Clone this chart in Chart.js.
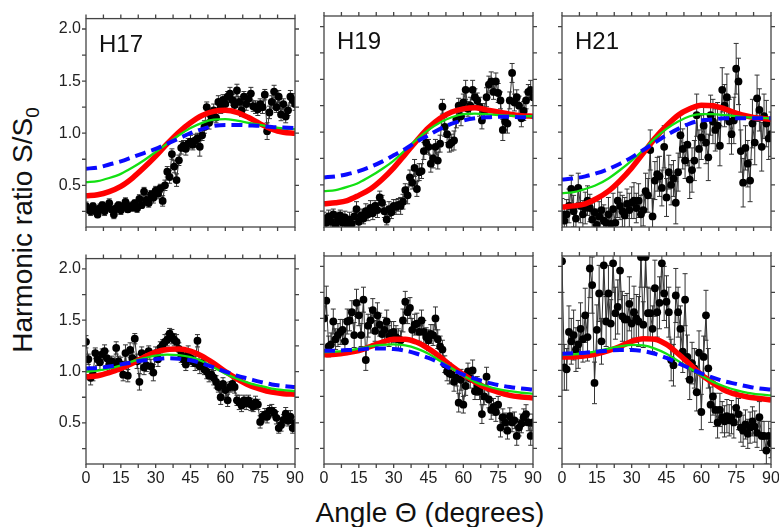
<!DOCTYPE html>
<html>
<head>
<meta charset="utf-8">
<script src="https://cdn.jsdelivr.net/npm/chart.js@4.4.0/dist/chart.umd.min.js"></script>
<style>
  html, body { margin: 0; padding: 0; background: #fff; }
  #figura {
    position: relative;
    width: 779px;
    height: 527px;
    overflow: hidden;
    font-family: "Liberation Sans", Arial, sans-serif;
    color: #111;
  }
  #figura canvas { position: absolute; }
  .titulo-y {
    position: absolute;
    left: 23px;
    top: 230px;
    font-size: 28px;
    line-height: 1;
    white-space: nowrap;
    transform: translate(-50%, -50%) rotate(-90deg);
  }
  .titulo-y .sub { font-size: 19px; position: relative; top: 7px; }
  .titulo-x {
    position: absolute;
    left: 430px;
    top: 499px;
    font-size: 28px;
    line-height: 1;
    white-space: nowrap;
    transform: translateX(-50%);
  }
</style>
</head>
<body>
<div id="figura">
  <div class="titulo-y">Harmonic ratio S/S<span class="sub">0</span></div>
  <div class="titulo-x">Angle Θ (degrees)</div>
</div>
<script>
// Ângulos medidos (um ponto por grau)
const angulos = [
  0, 1, 2, 3, 4, 5, 6, 7, 8, 9,
  10, 11, 12, 13, 14, 15, 16, 17, 18, 19,
  20, 21, 22, 23, 24, 25, 26, 27, 28, 29,
  30, 31, 32, 33, 34, 35, 36, 37, 38, 39,
  40, 41, 42, 43, 44, 45, 46, 47, 48, 49,
  50, 51, 52, 53, 54, 55, 56, 57, 58, 59,
  60, 61, 62, 63, 64, 65, 66, 67, 68, 69,
  70, 71, 72, 73, 74, 75, 76, 77, 78, 79,
  80, 81, 82, 83, 84, 85, 86, 87, 88, 89,
  90,
];

// Ângulos onde as curvas teóricas foram lidas
const curvaAngulos = [0, 5, 10, 15, 20, 25, 30, 35, 40, 45, 50, 55, 60, 65, 70, 75, 80, 85, 90];

const xRotulos = [0, 15, 30, 45, 60, 75, 90];
const yRotulos = [0.5, 1.0, 1.5, 2.0];
const xMarcas = [0, 7.5, 15, 22.5, 30, 37.5, 45, 52.5, 60, 67.5, 75, 82.5, 90];
const yMarcas = [0.25, 0.5, 0.75, 1.0, 1.25, 1.5, 1.75, 2.0];

// ---------- H17 (linha de cima) ----------
const h17SupValores = [
  0.30, 0.27, 0.25, 0.30, 0.26, 0.22, 0.28, 0.31, 0.25, 0.29,
  0.33, 0.27, 0.22, 0.28, 0.31, 0.26, 0.30, 0.34, 0.27, 0.30,
  0.29, 0.33, 0.28, 0.37, 0.31, 0.44, 0.36, 0.33, 0.41, 0.38,
  0.45, 0.42, 0.47, 0.35, 0.50, 0.63, 0.58, 0.80, 0.68, 0.55,
  0.74, 0.86, 0.88, 0.85, 0.90, 0.92, 0.89, 0.93, 0.95, 0.87,
  0.98, 1.06, 1.25, 1.10, 1.16, 1.22, 1.15, 1.30, 1.25, 1.32,
  1.28, 1.35, 1.38, 1.32, 1.27, 1.41, 1.30, 1.22, 1.35, 1.28,
  1.33, 1.38, 1.26, 1.25, 1.23, 1.28, 1.25, 1.37, 1.02, 1.20,
  1.30, 1.40, 1.25, 1.35, 1.18, 1.28, 1.16, 1.22, 1.35, 1.32,
  1.28,
];
const h17SupErros = [
  0.04, 0.03, 0.04, 0.03, 0.04, 0.03, 0.04, 0.03, 0.04, 0.03,
  0.04, 0.03, 0.04, 0.04, 0.03, 0.04, 0.03, 0.04, 0.03, 0.04,
  0.04, 0.03, 0.04, 0.04, 0.03, 0.04, 0.05, 0.04, 0.04, 0.05,
  0.04, 0.05, 0.04, 0.05, 0.05, 0.05, 0.06, 0.05, 0.06, 0.06,
  0.05, 0.06, 0.05, 0.06, 0.05, 0.06, 0.05, 0.06, 0.05, 0.09,
  0.05, 0.06, 0.05, 0.06, 0.05, 0.06, 0.05, 0.06, 0.06, 0.05,
  0.06, 0.05, 0.06, 0.05, 0.06, 0.06, 0.05, 0.06, 0.05, 0.06,
  0.05, 0.06, 0.05, 0.06, 0.06, 0.05, 0.06, 0.05, 0.08, 0.06,
  0.06, 0.06, 0.05, 0.06, 0.06, 0.05, 0.06, 0.05, 0.06, 0.06,
  0.06,
];
const h17SupVermelho = [0.40, 0.41, 0.44, 0.49, 0.57, 0.67, 0.78, 0.90, 1.01, 1.10, 1.17, 1.21, 1.22, 1.20, 1.15, 1.09, 1.04, 1.01, 1.00];
const h17SupVerde = [0.53, 0.54, 0.57, 0.61, 0.67, 0.74, 0.82, 0.90, 0.98, 1.05, 1.10, 1.13, 1.135, 1.12, 1.10, 1.08, 1.06, 1.045, 1.04];
const h17SupAzul = [0.66, 0.67, 0.70, 0.73, 0.77, 0.81, 0.85, 0.90, 0.95, 1.00, 1.04, 1.07, 1.08, 1.08, 1.075, 1.07, 1.06, 1.055, 1.05];

// ---------- H19 (linha de cima) ----------
const h19SupValores = [
  0.18, 0.14, 0.20, 0.15, 0.22, 0.12, 0.17, 0.21, 0.14, 0.19,
  0.12, 0.17, 0.13, 0.20, 0.27, 0.15, 0.21, 0.18, 0.25, 0.22,
  0.28, 0.23, 0.30, 0.26, 0.38, 0.33, 0.25, 0.17, 0.27, 0.24,
  0.30, 0.29, 0.31, 0.30, 0.34, 0.45, 0.40, 0.57, 0.52, 0.66,
  0.46, 0.62, 0.63, 0.82, 0.90, 0.86, 0.70, 0.75, 0.86, 0.73,
  0.89, 1.24, 1.05, 0.98, 0.88, 0.90, 0.92, 1.12, 1.25, 1.15,
  1.28, 1.40, 1.22, 1.25, 1.40, 1.33, 1.30, 1.24, 1.11, 1.20,
  1.33, 1.45, 1.48, 1.38, 1.48, 1.37, 1.30, 1.02, 1.10, 1.08,
  1.30, 1.56, 1.28, 1.33, 1.25, 1.13, 1.20, 1.30, 1.38, 1.40,
  1.33,
];
const h19SupErros = [
  0.06, 0.05, 0.06, 0.07, 0.05, 0.06, 0.07, 0.05, 0.06, 0.06,
  0.05, 0.07, 0.06, 0.05, 0.07, 0.06, 0.06, 0.05, 0.07, 0.06,
  0.07, 0.06, 0.05, 0.07, 0.06, 0.07, 0.06, 0.05, 0.07, 0.06,
  0.06, 0.07, 0.06, 0.08, 0.07, 0.06, 0.08, 0.07, 0.06, 0.08,
  0.07, 0.08, 0.07, 0.08, 0.09, 0.07, 0.08, 0.09, 0.07, 0.08,
  0.08, 0.07, 0.09, 0.08, 0.07, 0.08, 0.09, 0.08, 0.07, 0.09,
  0.08, 0.09, 0.07, 0.08, 0.09, 0.08, 0.07, 0.09, 0.08, 0.07,
  0.09, 0.08, 0.09, 0.07, 0.08, 0.09, 0.08, 0.10, 0.08, 0.09,
  0.08, 0.09, 0.08, 0.07, 0.09, 0.08, 0.09, 0.08, 0.07, 0.09,
  0.08,
];
const h19SupVermelho = [0.32, 0.33, 0.35, 0.40, 0.46, 0.55, 0.66, 0.79, 0.92, 1.04, 1.13, 1.19, 1.22, 1.23, 1.21, 1.19, 1.17, 1.155, 1.15];
const h19SupVerde = [0.44, 0.45, 0.48, 0.52, 0.58, 0.65, 0.73, 0.83, 0.93, 1.02, 1.09, 1.14, 1.17, 1.175, 1.17, 1.16, 1.155, 1.15, 1.15];
const h19SupAzul = [0.57, 0.58, 0.60, 0.63, 0.67, 0.72, 0.78, 0.84, 0.91, 0.97, 1.03, 1.08, 1.11, 1.13, 1.14, 1.145, 1.145, 1.14, 1.14];

// ---------- H21 (linha de cima) ----------
const h21SupValores = [
  0.22, 0.16, 0.22, 0.30, 0.46, 0.25, 0.18, 0.47, 0.30, 0.22,
  0.28, 0.35, 0.28, 0.17, 0.24, 0.12, 0.20, 0.26, 0.16, 0.14,
  0.22, 0.13, 0.27, 0.14, 0.35, 0.30, 0.25, 0.21, 0.32, 0.26,
  0.33, 0.35, 0.28, 0.35, 0.22, 0.26, 0.44, 0.40, 0.83, 0.20,
  0.54, 0.60, 0.58, 0.47, 0.86, 0.38, 0.62, 0.50, 0.56, 0.33,
  0.62, 0.97, 0.84, 0.73, 0.88, 0.55, 0.64, 0.73, 1.16, 0.84,
  0.95, 1.06, 0.90, 0.76, 1.16, 1.10, 1.02, 1.06, 0.87, 1.40,
  1.25, 1.33, 1.10, 0.98, 1.11, 1.60, 1.48, 0.82, 0.52, 0.85,
  0.70, 0.54, 1.08, 0.90, 1.32, 1.21, 0.86, 1.15, 1.08, 0.94,
  0.98,
];
const h21SupErros = [
  0.15, 0.12, 0.14, 0.16, 0.13, 0.15, 0.12, 0.14, 0.16, 0.13,
  0.15, 0.14, 0.13, 0.16, 0.12, 0.15, 0.14, 0.13, 0.15, 0.14,
  0.16, 0.13, 0.15, 0.14, 0.16, 0.13, 0.15, 0.17, 0.14, 0.16,
  0.15, 0.17, 0.14, 0.16, 0.18, 0.15, 0.17, 0.16, 0.19, 0.17,
  0.18, 0.16, 0.19, 0.17, 0.20, 0.18, 0.16, 0.19, 0.17, 0.20,
  0.18, 0.21, 0.19, 0.17, 0.20, 0.18, 0.21, 0.19, 0.20, 0.18,
  0.21, 0.19, 0.20, 0.22, 0.19, 0.21, 0.20, 0.22, 0.19, 0.21,
  0.20, 0.22, 0.21, 0.19, 0.22, 0.24, 0.22, 0.20, 0.23, 0.21,
  0.22, 0.20, 0.23, 0.21, 0.22, 0.20, 0.23, 0.21, 0.22, 0.20,
  0.21,
];
const h21SupVermelho = [0.29, 0.30, 0.32, 0.37, 0.44, 0.54, 0.66, 0.80, 0.94, 1.06, 1.16, 1.22, 1.255, 1.25, 1.22, 1.18, 1.15, 1.13, 1.12];
const h21SupVerde = [0.42, 0.43, 0.46, 0.50, 0.56, 0.64, 0.73, 0.83, 0.94, 1.03, 1.10, 1.15, 1.17, 1.17, 1.16, 1.15, 1.14, 1.135, 1.13];
const h21SupAzul = [0.55, 0.56, 0.58, 0.61, 0.65, 0.70, 0.76, 0.83, 0.90, 0.97, 1.03, 1.08, 1.11, 1.12, 1.13, 1.13, 1.13, 1.13, 1.13];

// ---------- H17 (linha de baixo) ----------
const h17InfValores = [
  1.29, 1.12, 0.94, 0.97, 1.18, 1.12, 1.09, 1.17, 1.20, 1.13,
  1.07, 1.10, 1.06, 1.23, 1.10, 1.07, 0.97, 1.18, 0.96, 1.21,
  1.13, 1.32, 1.10, 0.90, 1.18, 1.04, 1.06, 1.20, 1.05, 0.99,
  1.18, 1.12, 1.23, 1.26, 1.29, 1.31, 1.37, 1.34, 1.31, 1.29,
  1.22, 1.16, 1.12, 1.07, 1.18, 1.13, 1.10, 1.08, 1.30, 1.05,
  1.08, 1.02, 1.00, 0.96, 0.97, 0.94, 0.90, 0.85, 0.75, 0.88,
  0.82, 0.72, 0.85, 0.88, 0.85, 0.72, 0.70, 0.67, 0.72, 0.69,
  0.72, 0.68, 0.66, 0.70, 0.68, 0.51, 0.56, 0.58, 0.56, 0.62,
  0.62, 0.60, 0.55, 0.45, 0.48, 0.53, 0.59, 0.52, 0.56, 0.45,
  0.50,
];
const h17InfErros = [
  0.06, 0.05, 0.07, 0.06, 0.05, 0.06, 0.07, 0.05, 0.06, 0.07,
  0.06, 0.05, 0.07, 0.06, 0.05, 0.07, 0.06, 0.08, 0.06, 0.07,
  0.06, 0.05, 0.07, 0.08, 0.06, 0.07, 0.06, 0.05, 0.07, 0.08,
  0.06, 0.07, 0.06, 0.05, 0.07, 0.06, 0.05, 0.07, 0.06, 0.07,
  0.06, 0.07, 0.05, 0.06, 0.07, 0.06, 0.05, 0.07, 0.06, 0.07,
  0.06, 0.05, 0.07, 0.06, 0.05, 0.07, 0.06, 0.05, 0.07, 0.06,
  0.07, 0.06, 0.05, 0.07, 0.06, 0.05, 0.07, 0.06, 0.05, 0.06,
  0.05, 0.06, 0.05, 0.06, 0.05, 0.06, 0.05, 0.06, 0.06, 0.05,
  0.06, 0.05, 0.06, 0.05, 0.06, 0.05, 0.06, 0.05, 0.06, 0.05,
  0.06,
];
const h17InfVermelho = [0.95, 0.96, 0.99, 1.03, 1.08, 1.14, 1.19, 1.215, 1.22, 1.20, 1.15, 1.08, 1.00, 0.93, 0.87, 0.83, 0.80, 0.785, 0.78];
const h17InfVerde = [1.00, 1.01, 1.03, 1.06, 1.10, 1.13, 1.155, 1.165, 1.16, 1.14, 1.10, 1.04, 0.98, 0.93, 0.89, 0.86, 0.835, 0.82, 0.81];
const h17InfAzul = [1.03, 1.035, 1.05, 1.07, 1.09, 1.11, 1.12, 1.13, 1.125, 1.11, 1.08, 1.04, 1.00, 0.96, 0.93, 0.90, 0.875, 0.86, 0.85];

// ---------- H19 (linha de baixo) ----------
const h19InfValores = [
  1.50, 1.67, 1.23, 1.25, 1.47, 1.30, 1.34, 1.37, 1.39, 1.28,
  1.47, 1.48, 1.56, 1.34, 1.65, 1.53, 1.34, 1.68, 1.10, 1.43,
  1.48, 1.58, 1.38, 1.53, 1.44, 1.35, 1.39, 1.47, 1.33, 1.36,
  1.37, 1.32, 1.30, 1.29, 1.48, 1.66, 1.56, 1.60, 1.39, 1.44,
  1.45, 1.37, 1.48, 1.37, 1.32, 1.29, 1.35, 1.34, 1.50, 1.30,
  1.23, 1.20, 1.06, 0.99, 0.97, 0.96, 0.89, 0.93, 0.69, 0.91,
  0.67, 0.85, 0.99, 0.92, 1.00, 0.80, 0.85, 0.80, 0.58, 0.75,
  0.94, 0.72, 0.62, 0.65, 0.60, 0.67, 0.45, 0.55, 0.50, 0.42,
  0.56, 0.50, 0.52, 0.37, 0.45, 0.49, 0.55, 0.58, 0.50, 0.37,
  0.50,
];
const h19InfErros = [
  0.12, 0.14, 0.10, 0.11, 0.12, 0.10, 0.11, 0.12, 0.10, 0.11,
  0.12, 0.10, 0.11, 0.12, 0.13, 0.10, 0.11, 0.12, 0.10, 0.11,
  0.12, 0.11, 0.10, 0.12, 0.11, 0.10, 0.12, 0.11, 0.10, 0.11,
  0.10, 0.11, 0.10, 0.09, 0.11, 0.10, 0.11, 0.10, 0.11, 0.10,
  0.10, 0.09, 0.10, 0.11, 0.09, 0.10, 0.09, 0.10, 0.11, 0.09,
  0.10, 0.09, 0.08, 0.09, 0.10, 0.08, 0.09, 0.08, 0.09, 0.10,
  0.08, 0.09, 0.08, 0.09, 0.10, 0.08, 0.09, 0.08, 0.09, 0.08,
  0.09, 0.08, 0.09, 0.08, 0.09, 0.08, 0.09, 0.08, 0.09, 0.08,
  0.08, 0.09, 0.08, 0.09, 0.08, 0.09, 0.08, 0.09, 0.08, 0.09,
  0.08,
];
const h19InfVermelho = [1.15, 1.155, 1.17, 1.19, 1.23, 1.27, 1.30, 1.30, 1.27, 1.21, 1.13, 1.04, 0.96, 0.89, 0.83, 0.79, 0.76, 0.745, 0.735];
const h19InfVerde = [1.175, 1.18, 1.19, 1.21, 1.23, 1.245, 1.25, 1.24, 1.21, 1.16, 1.09, 1.02, 0.95, 0.89, 0.85, 0.82, 0.80, 0.785, 0.775];
const h19InfAzul = [1.19, 1.19, 1.195, 1.20, 1.21, 1.21, 1.205, 1.19, 1.16, 1.12, 1.07, 1.01, 0.96, 0.92, 0.885, 0.86, 0.84, 0.825, 0.815];

// ---------- H21 (linha de baixo) ----------
const h21InfValores = [
  2.05, 1.03, 1.01, 1.37, 1.28, 1.34, 1.20, 1.25, 1.40, 1.30,
  1.53, 1.32, 1.98, 1.82, 0.88, 1.39, 1.74, 1.28, 2.01, 1.47,
  1.74, 1.45, 2.03, 1.55, 1.61, 1.96, 1.52, 1.49, 1.49, 1.64,
  1.45, 1.56, 1.50, 1.47, 2.09, 1.44, 2.09, 1.55, 1.55, 1.40,
  1.79, 1.56, 1.65, 2.03, 1.74, 1.66, 1.56, 1.10, 1.05, 1.72,
  1.56, 1.40, 1.18, 1.68, 1.13, 0.91, 1.07, 1.02, 0.79, 1.17,
  0.60, 1.13, 1.53, 1.02, 0.67, 0.75, 0.62, 0.50, 0.62, 0.55,
  0.51, 0.56, 0.52, 0.55, 0.50, 0.64, 0.58, 0.45, 0.42, 0.48,
  0.39, 0.45, 0.51, 0.46, 0.40, 0.55, 0.37, 0.37, 0.23, 0.37,
  0.30,
];
const h21InfErros = [
  0.30, 0.22, 0.20, 0.25, 0.22, 0.24, 0.21, 0.23, 0.25, 0.22,
  0.26, 0.23, 0.28, 0.27, 0.20, 0.24, 0.27, 0.22, 0.28, 0.24,
  0.27, 0.23, 0.28, 0.25, 0.26, 0.28, 0.24, 0.23, 0.25, 0.26,
  0.24, 0.25, 0.23, 0.24, 0.29, 0.22, 0.29, 0.25, 0.24, 0.22,
  0.27, 0.24, 0.25, 0.28, 0.26, 0.25, 0.24, 0.20, 0.20, 0.26,
  0.24, 0.22, 0.20, 0.25, 0.21, 0.19, 0.20, 0.19, 0.18, 0.21,
  0.17, 0.20, 0.24, 0.19, 0.17, 0.18, 0.16, 0.15, 0.16, 0.15,
  0.15, 0.16, 0.15, 0.16, 0.15, 0.16, 0.15, 0.14, 0.15, 0.14,
  0.14, 0.15, 0.14, 0.15, 0.14, 0.15, 0.14, 0.14, 0.13, 0.14,
  0.14,
];
const h21InfVermelho = [1.13, 1.13, 1.14, 1.16, 1.19, 1.23, 1.28, 1.305, 1.30, 1.25, 1.16, 1.06, 0.96, 0.88, 0.81, 0.77, 0.745, 0.73, 0.715];
const h21InfVerde = [1.15, 1.155, 1.165, 1.185, 1.21, 1.23, 1.245, 1.24, 1.21, 1.16, 1.09, 1.02, 0.95, 0.89, 0.845, 0.81, 0.785, 0.77, 0.76];
const h21InfAzul = [1.16, 1.165, 1.17, 1.18, 1.19, 1.195, 1.195, 1.185, 1.16, 1.12, 1.07, 1.02, 0.97, 0.93, 0.895, 0.87, 0.845, 0.825, 0.815];

// Posição dos painéis na figura
const colunasX = [86, 324, 562];
const linhasY = [16, 256];
const linhasH = [211, 208];
const PAINEL_W = 209;
const MARGEM_ESQ = 50;
const MARGEM_DIR = 14;
const MARGEM_TOPO = 12;
const MARGEM_BASE = 36;

const fonteEixo = { family: "'Liberation Sans', Arial, sans-serif", size: 16 };

const paineis = [
  { rotulo: "H17", coluna: 0, linha: 0, valores: h17SupValores, erros: h17SupErros, vermelho: h17SupVermelho, verde: h17SupVerde, azul: h17SupAzul },
  { rotulo: "H19", coluna: 1, linha: 0, valores: h19SupValores, erros: h19SupErros, vermelho: h19SupVermelho, verde: h19SupVerde, azul: h19SupAzul },
  { rotulo: "H21", coluna: 2, linha: 0, valores: h21SupValores, erros: h21SupErros, vermelho: h21SupVermelho, verde: h21SupVerde, azul: h21SupAzul },
  { rotulo: "", coluna: 0, linha: 1, valores: h17InfValores, erros: h17InfErros, vermelho: h17InfVermelho, verde: h17InfVerde, azul: h17InfAzul },
  { rotulo: "", coluna: 1, linha: 1, valores: h19InfValores, erros: h19InfErros, vermelho: h19InfVermelho, verde: h19InfVerde, azul: h19InfAzul },
  { rotulo: "", coluna: 2, linha: 1, valores: h21InfValores, erros: h21InfErros, vermelho: h21InfVermelho, verde: h21InfVerde, azul: h21InfAzul },
];

// Barras de erro desenhadas por baixo dos pontos
const barrasErroPlugin = {
  id: "barrasErro",
  beforeDatasetsDraw(chart) {
    const { ctx, chartArea, scales: { x, y } } = chart;
    const { valores, erros } = chart.config.options.plugins.barrasErro;
    ctx.save();
    ctx.beginPath();
    ctx.rect(chartArea.left, chartArea.top, chartArea.width, chartArea.height);
    ctx.clip();
    ctx.strokeStyle = "#333";
    ctx.lineWidth = 1;
    ctx.beginPath();
    valores.forEach((v, i) => {
      const px = x.getPixelForValue(angulos[i]);
      const alto = y.getPixelForValue(v + erros[i]);
      const baixo = y.getPixelForValue(v - erros[i]);
      ctx.moveTo(px, alto);
      ctx.lineTo(px, baixo);
      ctx.moveTo(px - 2.5, alto);
      ctx.lineTo(px + 2.5, alto);
      ctx.moveTo(px - 2.5, baixo);
      ctx.lineTo(px + 2.5, baixo);
    });
    ctx.stroke();
    ctx.restore();
  },
};

// Moldura com marcas para fora nos quatro lados + rótulo do harmônico
const molduraPlugin = {
  id: "moldura",
  afterDraw(chart) {
    const { ctx, chartArea: { left, right, top, bottom }, scales: { x, y } } = chart;
    ctx.save();
    ctx.strokeStyle = "#444";
    ctx.lineWidth = 1.3;
    ctx.strokeRect(left, top, right - left, bottom - top);
    ctx.beginPath();
    xMarcas.forEach((v) => {
      const px = x.getPixelForValue(v);
      ctx.moveTo(px, bottom);
      ctx.lineTo(px, bottom + 4);
      ctx.moveTo(px, top);
      ctx.lineTo(px, top - 4);
    });
    yMarcas.forEach((v) => {
      const py = y.getPixelForValue(v);
      ctx.moveTo(left, py);
      ctx.lineTo(left - 4, py);
      ctx.moveTo(right, py);
      ctx.lineTo(right + 4, py);
    });
    ctx.stroke();

    const rotulo = chart.config.options.plugins.moldura.rotulo;
    if (rotulo) {
      ctx.font = "24px 'Liberation Sans', Arial, sans-serif";
      ctx.fillStyle = "#111";
      ctx.textAlign = "left";
      ctx.textBaseline = "alphabetic";
      ctx.fillText(rotulo, left + 13, top + 33);
    }
    ctx.restore();
  },
};

function pares(xs, ys) {
  return xs.map((a, i) => ({ x: a, y: ys[i] }));
}

function montarPainel(p) {
  const figura = document.getElementById("figura");
  const largura = PAINEL_W + MARGEM_ESQ + MARGEM_DIR;
  const altura = linhasH[p.linha] + MARGEM_TOPO + MARGEM_BASE;

  const canvas = document.createElement("canvas");
  canvas.width = largura;
  canvas.height = altura;
  canvas.style.left = colunasX[p.coluna] - MARGEM_ESQ + "px";
  canvas.style.top = linhasY[p.linha] - MARGEM_TOPO + "px";
  canvas.style.width = largura + "px";
  canvas.style.height = altura + "px";
  figura.appendChild(canvas);

  const mostraX = p.linha === 1;
  const mostraY = p.coluna === 0;

  new Chart(canvas.getContext("2d"), {
    type: "line",
    plugins: [barrasErroPlugin, molduraPlugin],
    data: {
      datasets: [
        {
          data: pares(curvaAngulos, p.azul),
          borderColor: "#0a0aff",
          borderWidth: 4,
          borderDash: [11, 6],
          pointRadius: 0,
          cubicInterpolationMode: "monotone",
          fill: false,
        },
        {
          data: pares(curvaAngulos, p.verde),
          borderColor: "#12e012",
          borderWidth: 2.3,
          pointRadius: 0,
          cubicInterpolationMode: "monotone",
          fill: false,
        },
        {
          data: pares(curvaAngulos, p.vermelho),
          borderColor: "#ff0000",
          borderWidth: 5.5,
          pointRadius: 0,
          cubicInterpolationMode: "monotone",
          fill: false,
        },
        {
          data: pares(angulos, p.valores),
          borderColor: "#333",
          borderWidth: 1,
          pointRadius: 3.9,
          pointBackgroundColor: "#000",
          pointBorderWidth: 0,
          pointHoverRadius: 3.9,
          tension: 0,
          fill: false,
        },
      ],
    },
    options: {
      responsive: false,
      animation: false,
      events: [],
      layout: { padding: { top: MARGEM_TOPO, right: MARGEM_DIR, left: 0, bottom: 0 } },
      scales: {
        x: {
          type: "linear",
          min: 0,
          max: 90,
          afterBuildTicks: (s) => { s.ticks = xRotulos.map((v) => ({ value: v })); },
          afterFit: (s) => { s.height = MARGEM_BASE; },
          grid: { display: false, drawTicks: false },
          border: { display: false },
          ticks: { display: mostraX, font: fonteEixo, color: "#222", padding: 5, maxRotation: 0, autoSkip: false },
        },
        y: {
          type: "linear",
          min: 0.1,
          max: 2.1,
          afterBuildTicks: (s) => { s.ticks = yRotulos.map((v) => ({ value: v })); },
          afterFit: (s) => { s.width = MARGEM_ESQ; },
          grid: { display: false, drawTicks: false },
          border: { display: false },
          ticks: { display: mostraY, font: fonteEixo, color: "#222", padding: 5, callback: (v) => Number(v).toFixed(1) },
        },
      },
      plugins: {
        legend: { display: false },
        tooltip: { enabled: false },
        barrasErro: { valores: p.valores, erros: p.erros },
        moldura: { rotulo: p.rotulo },
      },
    },
  });
}

paineis.forEach(montarPainel);
</script>
</body>
</html>
